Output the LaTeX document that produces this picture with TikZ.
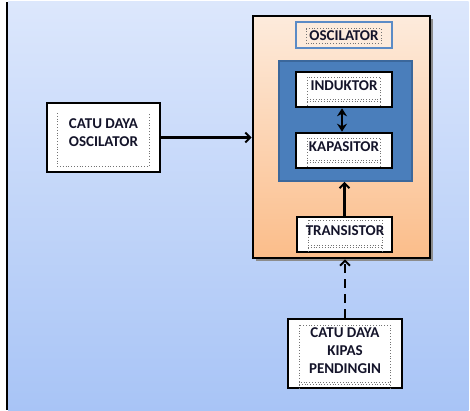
\documentclass[tikz,border=0pt]{standalone}
\usepackage{fontspec}
\setmainfont{Carlito}
\usetikzlibrary{arrows.meta}
\definecolor{bgtop}{HTML}{DCE7FC}
\definecolor{bgbot}{HTML}{A8C4F6}
\definecolor{ortop}{HTML}{FDEBDC}
\definecolor{orbot}{HTML}{FBBD8A}
\definecolor{innerblue}{HTML}{4A7EBB}
\definecolor{innerborder}{HTML}{3B679B}
\definecolor{labelblue}{HTML}{5B8BC6}
\definecolor{txt}{HTML}{14142A}
\begin{document}
\begin{tikzpicture}[x=1pt,y=-1pt,
  box/.style={draw=black,line width=2.6pt,fill=white,inner sep=0pt},
  lbl/.style={text=txt,font=\fontsize{15}{18}\selectfont\bfseries,align=center,inner sep=0pt},
  dotbox/.style={draw=black!55,dotted,line width=0.8pt},
  conn/.style={line width=2.4pt,-{Straight Barb[length=5pt,width=10pt,line width=2pt]}},
  shadowc/.style={fill=black!45}
]
\useasboundingbox (0,0) rectangle (470,410);
\fill[white] (0,0) rectangle (470,410);
\shade[top color=bgtop,bottom color=bgbot] (8,1.5) rectangle (468.5,410);
\fill[black] (5.8,1.5) rectangle (8,410);

% orange oscillator box
\fill[shadowc] (256,19) rectangle (433,261);
\node[draw=black,line width=2.6pt,top color=ortop,bottom color=orbot,minimum width=177pt,minimum height=242pt,inner sep=0pt] (osc) at (341.5,137) {};

% label OSCILATOR
\node[draw=labelblue,line width=2.2pt,fill=ortop,minimum width=96pt,minimum height=26pt,inner sep=0pt] (osclbl) at (344,35) {};
\draw[dotbox] (306,28.5) rectangle (381,43.5);
\node[lbl] (osctext) at (344,36) {OSCILATOR};

% inner blue box
\node[draw=innerborder,line width=1.6pt,fill=innerblue,minimum width=133pt,minimum height=120pt,inner sep=0pt] (tank) at (345.5,121) {};

% INDUKTOR
\node[box,minimum width=96pt,minimum height=35pt] (ind) at (344,89.5) {};
\draw[dotbox] (307,77) rectangle (380,99);
\draw[dotbox] (307,99) -- (307,106) (380,99) -- (380,106) (307,101) -- (380,101);
\node[lbl] (indtext) at (344,85.5) {INDUKTOR};

% KAPASITOR
\node[box,minimum width=96pt,minimum height=35pt] (kap) at (344,150.5) {};
\draw[dotbox] (307,138) rectangle (380,160);
\draw[dotbox] (307,160) -- (307,167) (380,160) -- (380,167) (307,162) -- (380,162);
\node[lbl] (kaptext) at (344,146.5) {KAPASITOR};

% TRANSISTOR
\node[box,minimum width=95pt,minimum height=35pt] (tr) at (344.5,234.5) {};
\draw[dotbox] (308,220) rectangle (382,245);
\draw[dotbox] (308,245) -- (308,251) (382,245) -- (382,251) (308,247) -- (382,247);
\node[lbl] (trtext) at (345,230.5) {TRANSISTOR};

% CATU DAYA OSCILATOR
\node[box,minimum width=113pt,minimum height=69pt] (cdo) at (103.5,137.5) {};
\draw[dotbox] (57,113) -- (57,166) -- (149,166) -- (149,113);
\node[lbl] (cdotext) at (103.5,132.5) {CATU DAYA\\OSCILATOR};

% CATU DAYA KIPAS PENDINGIN
\node[box,minimum width=114pt,minimum height=69pt] (cdk) at (345,353.5) {};
\draw[dotbox] (299,325) rectangle (390,382);
\draw[dotbox] (299,382) -- (299,388) (390,382) -- (390,388) (299,384) -- (390,384);
\node[lbl] (cdktext) at (345,351) {CATU DAYA\\KIPAS\\PENDINGIN};

% connectors
\draw[conn] (cdo.east) -- (cdo.east -| osc.west);
\draw[conn] (tr.north) -- (tr.north |- tank.south);
\draw[conn,line width=2.6pt,dash pattern=on 9pt off 6pt] (cdk.north) -- (cdk.north |- osc.south);
\draw[line width=2.2pt,{Stealth[length=8pt,width=10pt]}-{Stealth[length=8pt,width=10pt]}] ([xshift=-2pt]ind.south) -- ([xshift=-2pt]kap.north);
\end{tikzpicture}
\end{document}
